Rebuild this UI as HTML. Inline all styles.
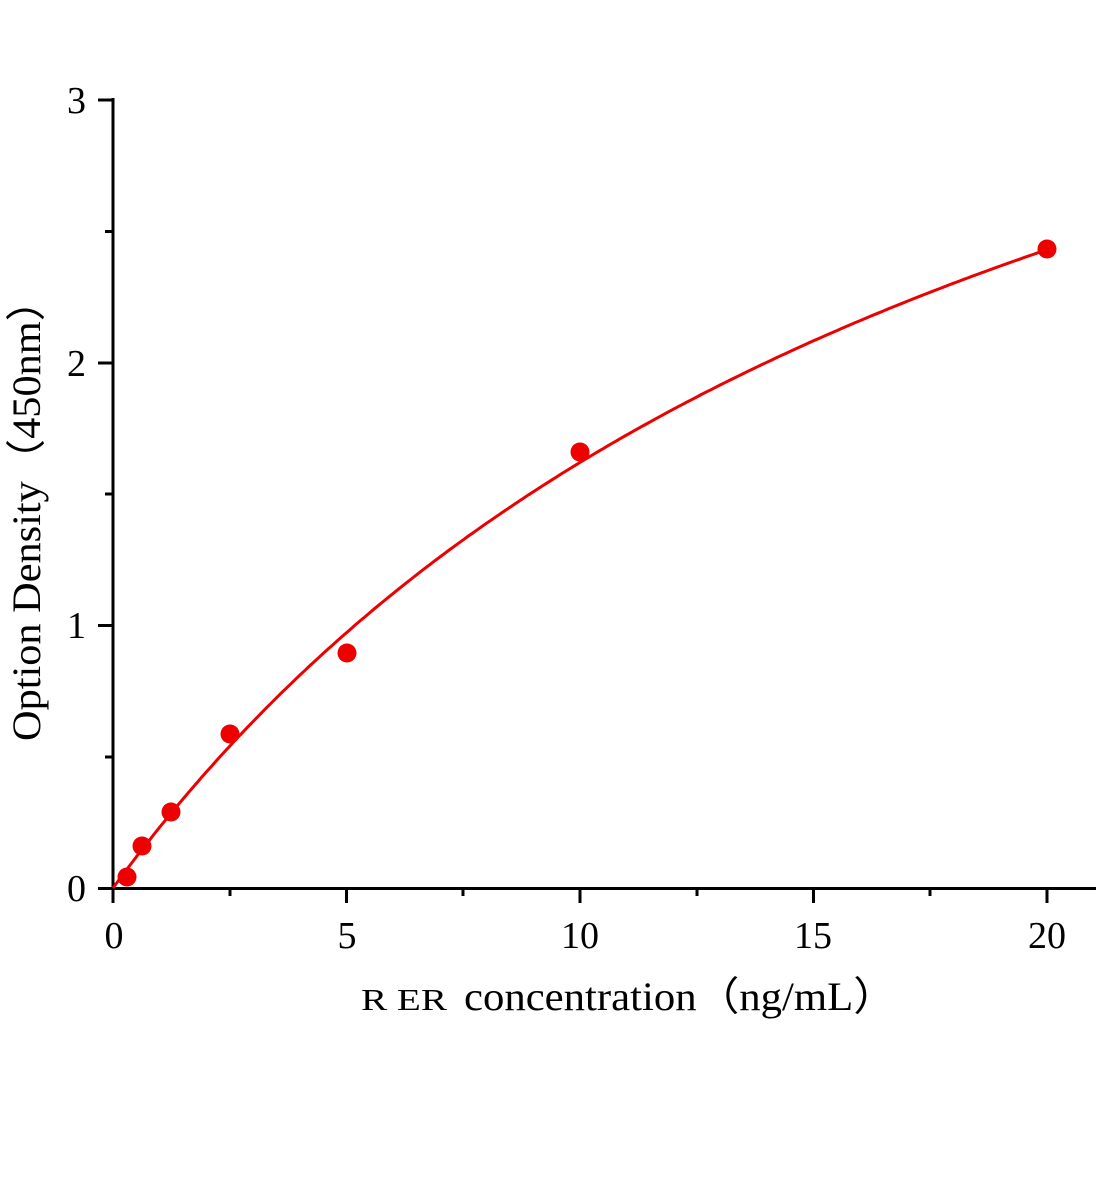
<!DOCTYPE html>
<html><head><meta charset="utf-8"><style>
html,body{margin:0;padding:0;background:#fff;width:1104px;height:1200px;overflow:hidden}
text{font-family:"Liberation Serif","Times New Roman",serif;fill:#000}
</style></head><body>
<svg id="s" width="1104" height="1200" viewBox="0 0 1104 1200" xmlns="http://www.w3.org/2000/svg">
<g stroke="#000" stroke-width="3" fill="none">
<line x1="113" y1="98" x2="113" y2="890"/>
<line x1="98" y1="888.5" x2="1096" y2="888.5"/>
<line x1="98" y1="100" x2="113" y2="100"/>
<line x1="98" y1="363" x2="113" y2="363"/>
<line x1="98" y1="625.5" x2="113" y2="625.5"/>
<line x1="105" y1="231.5" x2="113" y2="231.5"/>
<line x1="105" y1="494" x2="113" y2="494"/>
<line x1="105" y1="757" x2="113" y2="757"/>
<line x1="113" y1="888" x2="113" y2="903"/>
<line x1="346.5" y1="888" x2="346.5" y2="903"/>
<line x1="580" y1="888" x2="580" y2="903"/>
<line x1="813.5" y1="888" x2="813.5" y2="903"/>
<line x1="1047" y1="888" x2="1047" y2="903"/>
<line x1="230" y1="888" x2="230" y2="896"/>
<line x1="463" y1="888" x2="463" y2="896"/>
<line x1="697" y1="888" x2="697" y2="896"/>
<line x1="930" y1="888" x2="930" y2="896"/>
</g>
<path id="curve" stroke="#ee0000" stroke-width="3" fill="none" d=""/>
<g fill="#ee0000">
<circle cx="127" cy="877" r="9.5"/>
<circle cx="142" cy="846" r="9.5"/>
<circle cx="171" cy="812" r="9.5"/>
<circle cx="230" cy="734" r="9.5"/>
<circle cx="347" cy="653" r="9.5"/>
<circle cx="580" cy="452" r="9.5"/>
<circle cx="1047" cy="249" r="9.5"/>
</g>
<g font-size="38" text-anchor="end">
<text x="86" y="113">3</text>
<text x="86" y="376">2</text>
<text x="86" y="638">1</text>
<text x="86" y="901">0</text>
</g>
<g font-size="38" text-anchor="middle">
<text x="114" y="948">0</text>
<text x="347" y="948">5</text>
<text x="580" y="948">10</text>
<text x="813" y="948">15</text>
<text x="1047" y="948">20</text>
</g>
<text x="361" y="1010" font-size="31" textLength="86" lengthAdjust="spacingAndGlyphs">R ER</text>
<text x="464" y="1010" font-size="40" textLength="432" lengthAdjust="spacingAndGlyphs">concentration（ng/mL）</text>
<text transform="translate(40,510) rotate(-90)" font-size="40" text-anchor="middle" textLength="462" lengthAdjust="spacingAndGlyphs">Option Density（450nm）</text>
</svg>
<script>
var d="";for(var i=0;i<=200;i++){var x=i*0.1;var y=4.86*x/(20+x);var px=113+x*46.7,py=888-y*262.7;d+=(i?"L":"M")+px.toFixed(1)+","+py.toFixed(1);}
document.getElementById("curve").setAttribute("d",d);
</script>
</body></html>
